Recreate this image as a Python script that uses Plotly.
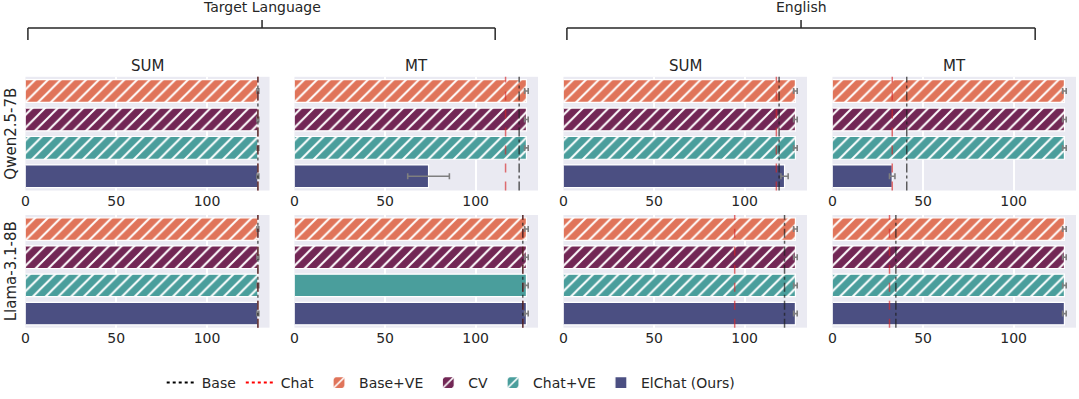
import plotly.graph_objects as go

W, H = 1079, 399

# panels: (model, setting, task) in reading order
models = ["Qwen2.5-7B", "Llama-3.1-8B"]
settings = ["Target Language", "English"]
tasks = ["SUM", "MT", "SUM", "MT"]

series = ["Base+VE", "CV", "Chat+VE", "ElChat (Ours)"]
colors = ["#E0745A", "#722755", "#4A9E9C", "#4B4F82"]

# one value per panel (Qwen TL-SUM, TL-MT, EN-SUM, EN-MT, then Llama ...)
base_ve = [128, 128, 128, 128, 128, 128, 128, 128]
cv = [128, 128, 128, 128, 128, 128, 128, 128]
chat_ve = [128, 128, 128, 128, 128, 128, 128, 128]
elchat = [128, 74, 122, 33, 128, 128, 128, 128]

base_ve_err = [0.5, 1.0, 1.0, 1.0, 0.5, 1.0, 1.0, 1.0]
cv_err = [0.5, 1.0, 1.0, 1.0, 0.5, 1.0, 1.0, 1.0]
chat_ve_err = [0.5, 1.0, 1.0, 1.0, 0.5, 1.0, 1.0, 1.0]
elchat_err = [0.5, 11.5, 2.0, 1.5, 0.5, 1.0, 1.0, 1.0]

base_line = [128, 124, 119, 41, 128, 126, 122, 35]
chat_line = [128, 116.5, 117.5, 33, 128, 126, 94.5, 31.5]

values = [base_ve, cv, chat_ve, elchat]
errors = [base_ve_err, cv_err, chat_ve_err, elchat_err]
# the Llama target-language MT Chat+VE bar is drawn without hatch in the original
hatched = [True, True, True, False]

col_px = [(21.5, 266.5), (291.5, 536), (561.5, 806), (831.5, 1076)]
row_px = [(77, 191), (215.5, 328.5)]


def px_x(v):
    return v / W


def px_y(v):
    return 1 - v / H


font = "DejaVu Sans"
ink = "#262626"

fig = go.Figure()

# legend-only line entries
fig.add_trace(go.Scatter(x=[None], y=[None], mode="lines", name="Base",
                         line=dict(color="black", dash="dot", width=2)))
fig.add_trace(go.Scatter(x=[None], y=[None], mode="lines", name="Chat",
                         line=dict(color="red", dash="dot", width=2)))

layout_axes = {}
shapes = []
annotations = []

for r in range(2):
    for c in range(4):
        i = r * 4 + c
        sfx = "" if i == 0 else str(i + 1)
        for s, name in enumerate(series):
            hatch = hatched[s]
            if i == 5 and s == 2:
                hatch = False
            pattern = dict(shape="/", fgcolor="white", bgcolor=colors[s],
                           size=9, solidity=0.22, fillmode="replace") if hatch else dict(shape="")
            fig.add_trace(go.Bar(
                x=[values[s][i]], y=[name], orientation="h", width=0.8,
                name=name, legendgroup=name, showlegend=(i == 0),
                marker=dict(color=colors[s], pattern=pattern,
                            line=dict(color="white", width=1.2)),
                error_x=dict(type="data", array=[errors[s][i]], color="#7f7f7f",
                             thickness=1.6, width=3),
                xaxis="x" + sfx, yaxis="y" + sfx,
            ))
        x0, x1 = col_px[c]
        y0, y1 = row_px[r]
        layout_axes["xaxis" + sfx] = dict(
            domain=[px_x(x0), px_x(x1)], anchor="y" + sfx, range=[0, 134.4],
            type="linear", tickvals=[0, 50, 100], showgrid=True, gridcolor="white",
            gridwidth=1.5, zeroline=False, showline=False, ticks="",
            tickfont=dict(family=font, size=14, color=ink),
        )
        layout_axes["yaxis" + sfx] = dict(
            domain=[px_y(y1), px_y(y0)], anchor="x" + sfx, type="category",
            categoryorder="array", categoryarray=series, range=[3.5, -0.5],
            showticklabels=False, showgrid=False, zeroline=False, showline=False,
        )
        # reference lines
        shapes.append(dict(type="line", xref="x" + sfx, yref="y" + sfx + " domain",
                           x0=chat_line[i], x1=chat_line[i], y0=0, y1=1,
                           line=dict(color="rgba(214,39,40,0.65)", dash="dash", width=1.5)))
        shapes.append(dict(type="line", xref="x" + sfx, yref="y" + sfx + " domain",
                           x0=base_line[i], x1=base_line[i], y0=0, y1=1,
                           line=dict(color="rgba(30,30,30,0.7)", dash="dashdot", width=1.5)))
        if r == 0:
            annotations.append(dict(
                text=tasks[c], xref="paper", yref="paper",
                x=px_x((x0 + x1) / 2), y=px_y(66), xanchor="center", yanchor="middle",
                showarrow=False, font=dict(family=font, size=15, color=ink)))

# row labels
for r, m in enumerate(models):
    y0, y1 = row_px[r]
    annotations.append(dict(
        text=m, xref="paper", yref="paper", x=px_x(7), y=px_y((y0 + y1) / 2),
        xanchor="center", yanchor="middle", textangle=-90, showarrow=False,
        font=dict(family=font, size=15, color=ink)))

# group brackets
brackets = [(24, 493, 259), (565, 1035, 800)]
for (bl, br, bc), label in zip(brackets, settings):
    line = dict(color="#262626", width=1.5)
    shapes.append(dict(type="line", xref="paper", yref="paper",
                       x0=px_x(bl), x1=px_x(br), y0=px_y(28), y1=px_y(28), line=line))
    shapes.append(dict(type="line", xref="paper", yref="paper",
                       x0=px_x(bl), x1=px_x(bl), y0=px_y(28), y1=px_y(40), line=line))
    shapes.append(dict(type="line", xref="paper", yref="paper",
                       x0=px_x(br), x1=px_x(br), y0=px_y(28), y1=px_y(40), line=line))
    shapes.append(dict(type="line", xref="paper", yref="paper",
                       x0=px_x(bc), x1=px_x(bc), y0=px_y(20), y1=px_y(28), line=line))
    annotations.append(dict(
        text=label, xref="paper", yref="paper", x=px_x(bc), y=px_y(7),
        xanchor="center", yanchor="middle", showarrow=False,
        font=dict(family=font, size=14, color=ink)))

fig.update_layout(
    width=W, height=H,
    margin=dict(l=0, r=0, t=0, b=0),
    paper_bgcolor="white", plot_bgcolor="#EAEAF2",
    barmode="overlay",
    shapes=shapes, annotations=annotations,
    legend=dict(orientation="h", x=0.416, xanchor="center", y=px_y(384), yanchor="middle",
                font=dict(family=font, size=14, color=ink), itemwidth=30,
                bgcolor="rgba(0,0,0,0)"),
    **layout_axes,
)

# drop the browser's default 8px body margin so the figure sits at the page origin
fig.write_html("out.html", config={"displayModeBar": False},
               post_script="document.body.style.margin='0';")
